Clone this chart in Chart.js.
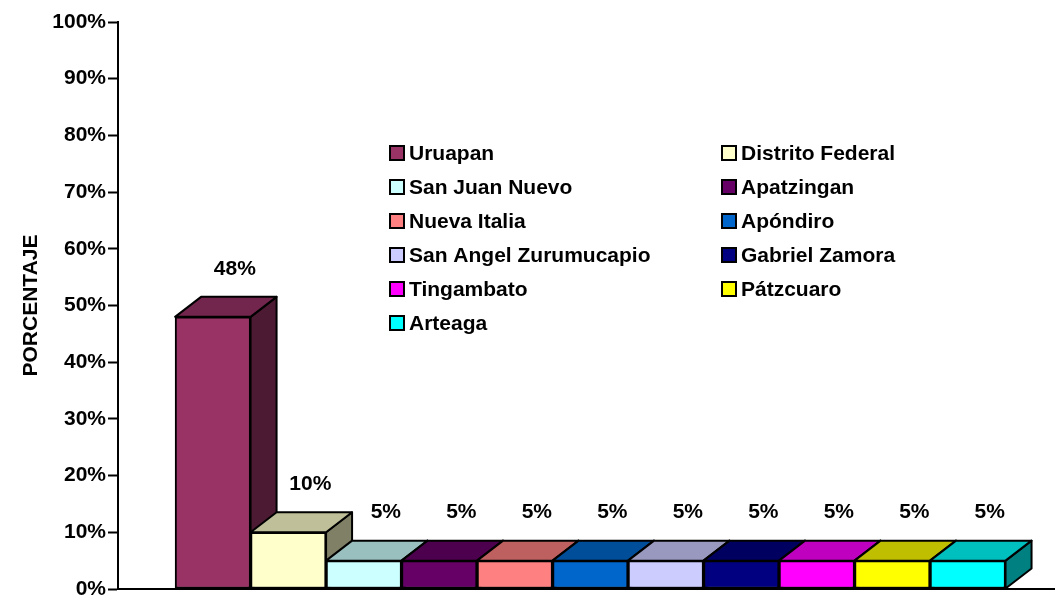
<!DOCTYPE html>
<html>
<head>
<meta charset="utf-8">
<script src="https://cdn.jsdelivr.net/npm/chart.js@4.4.0/dist/chart.umd.min.js"></script>
<style>
  body { margin: 0; background: #fff; }
  #wrap { width: 1055px; height: 598px; position: relative; }
</style>
</head>
<body>
<div id="wrap"><canvas id="myBarChart"></canvas></div>
<script>
// municipios y porcentajes
var categories = ['Uruapan', 'Distrito Federal', 'San Juan Nuevo', 'Apatzingan', 'Nueva Italia',
    'Apóndiro', 'San Angel Zurumucapio', 'Gabriel Zamora', 'Tingambato', 'Pátzcuaro', 'Arteaga'];
var porcentajes = [48, 10, 5, 5, 5, 5, 5, 5, 5, 5, 5];
var colores = ['#993366', '#FFFFCC', '#CCFFFF', '#660066', '#FF8080',
    '#0066CC', '#CCCCFF', '#000080', '#FF00FF', '#FFFF00', '#00FFFF'];
var yMax = 100;
var yStep = 10;

var FONT = { family: 'Arial, "Liberation Sans", sans-serif', size: 21, weight: 'bold' };
var CSSFONT = 'bold 21px Arial, "Liberation Sans", sans-serif';
var DX = 26, DY = 20;

function shade(hex, f) {
    let n = parseInt(hex.slice(1), 16);
    let r = Math.round(((n >> 16) & 255) * f);
    let g = Math.round(((n >> 8) & 255) * f);
    let b = Math.round((n & 255) * f);
    return 'rgb(' + r + ',' + g + ',' + b + ')';
}

// sides and tops of the 3d bars, drawn before the library draws the fronts
const bar3d = {
    id: 'bar3d',
    beforeDatasetsDraw(chart) {
        const ctx = chart.ctx;
        const bars = chart.getDatasetMeta(0).data;
        ctx.save();
        ctx.lineWidth = 2;
        ctx.strokeStyle = '#000';
        ctx.lineJoin = 'round';
        bars.forEach(function(bar, i) {
            let p = bar.getProps(['x', 'y', 'base', 'width'], true);
            let l = p.x - p.width / 2, r = p.x + p.width / 2;
            // side
            ctx.beginPath();
            ctx.moveTo(r, p.y);
            ctx.lineTo(r + DX, p.y - DY);
            ctx.lineTo(r + DX, p.base - DY);
            ctx.lineTo(r, p.base);
            ctx.closePath();
            ctx.fillStyle = shade(colores[i], 0.5);
            ctx.fill();
            ctx.stroke();
            // top
            ctx.beginPath();
            ctx.moveTo(l, p.y);
            ctx.lineTo(l + DX, p.y - DY);
            ctx.lineTo(r + DX, p.y - DY);
            ctx.lineTo(r, p.y);
            ctx.closePath();
            ctx.fillStyle = shade(colores[i], 0.75);
            ctx.fill();
            ctx.stroke();
        });
        ctx.restore();
    },
    afterDatasetsDraw(chart) {
        const ctx = chart.ctx;
        const bars = chart.getDatasetMeta(0).data;
        ctx.save();
        ctx.font = CSSFONT;
        ctx.fillStyle = '#000';
        ctx.textAlign = 'center';
        ctx.textBaseline = 'middle';
        bars.forEach(function(bar, i) {
            let p = bar.getProps(['x', 'y'], true);
            ctx.fillText(porcentajes[i] + '%', p.x + 22, p.y - DY - 28);
        });
        ctx.restore();
    },
    afterDraw(chart) {
        // legend inside the plot, two columns
        const ctx = chart.ctx;
        ctx.save();
        ctx.font = CSSFONT;
        ctx.textBaseline = 'middle';
        ctx.textAlign = 'left';
        ctx.lineWidth = 2;
        categories.forEach(function(name, i) {
            let x = i % 2 === 0 ? 390 : 722;
            let y = 153 + Math.floor(i / 2) * 34;
            ctx.fillStyle = colores[i];
            ctx.fillRect(x, y - 7, 14, 14);
            ctx.strokeStyle = '#000';
            ctx.strokeRect(x, y - 7, 14, 14);
            ctx.fillStyle = '#000';
            ctx.fillText(name, x + 19, y + 1);
        });
        ctx.restore();
    }
};

function populateBarChart(chartId) {
    const ctx = document.getElementById(chartId).getContext('2d');
    new Chart(ctx, {
        type: 'bar',
        data: {
            datasets: [{
                label: 'Porcentaje',
                data: porcentajes.map(function(v, i) { return { x: i, y: v }; }),
                backgroundColor: colores,
                borderColor: '#000',
                borderWidth: 2,
                borderSkipped: false,
                categoryPercentage: 1,
                barPercentage: 1
            }]
        },
        options: {
            responsive: true,
            maintainAspectRatio: false,
            animation: false,
            layout: { autoPadding: false, padding: { top: 22, right: 0, bottom: 9, left: 0 } },
            plugins: {
                legend: { display: false },
                tooltip: { enabled: false }
            },
            scales: {
                x: {
                    type: 'linear',
                    offset: false,
                    min: -1.256,
                    max: 11.155,
                    ticks: { display: false },
                    grid: { display: false, offset: false },
                    border: { display: true, color: '#000', width: 2 },
                    afterFit: function(scale) { scale.height = 0; }
                },
                y: {
                    min: 0,
                    max: yMax,
                    ticks: {
                        stepSize: yStep,
                        color: '#000',
                        font: FONT,
                        padding: 2,
                        callback: function(v) { return v + '%'; }
                    },
                    grid: {
                        drawOnChartArea: false,
                        drawTicks: true,
                        tickLength: 10,
                        tickColor: '#000',
                        tickWidth: 2
                    },
                    border: { color: '#000', width: 2 },
                    title: {
                        display: true,
                        text: 'PORCENTAJE',
                        color: '#000',
                        font: FONT,
                        padding: { top: 19, bottom: 0 }
                    },
                    afterFit: function(scale) {
                        scale.width = 118;
                        scale.paddingTop = 0;
                        scale.paddingBottom = 0;
                    }
                }
            }
        },
        plugins: [bar3d]
    });
}

populateBarChart('myBarChart');
</script>
</body>
</html>
